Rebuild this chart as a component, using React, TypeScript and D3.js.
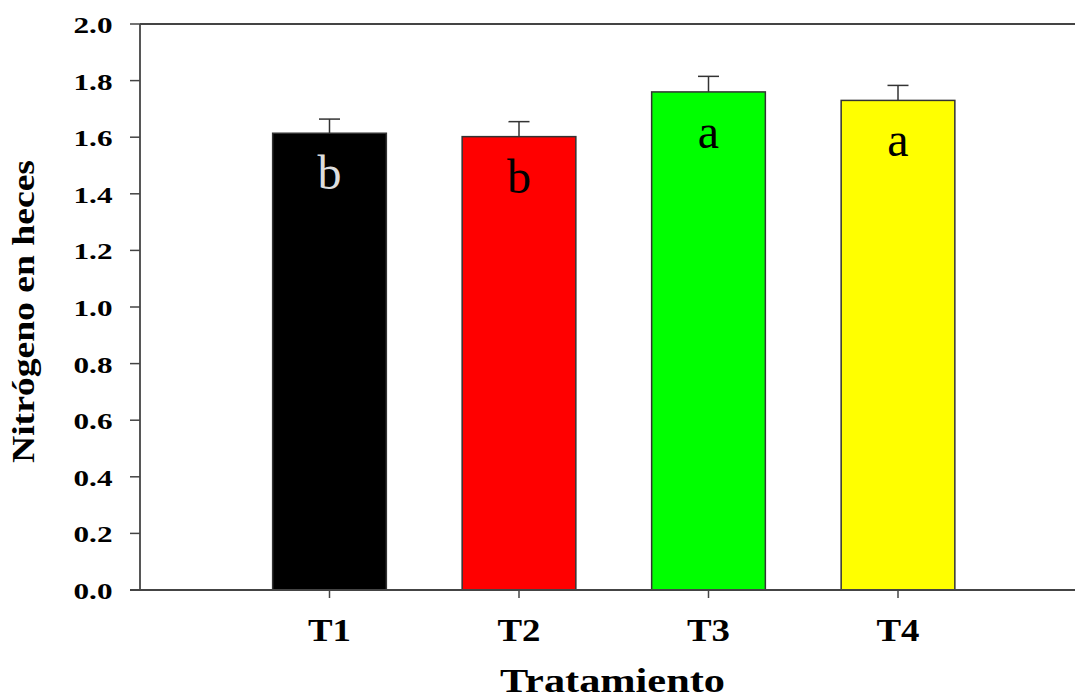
import React from "react";
import * as d3 from "d3";

const categories = ["T1", "T2", "T3", "T4"];
const values = [1.614, 1.602, 1.76, 1.73];
const errors = [0.05, 0.053, 0.055, 0.053];
const letters = ["b", "b", "a", "a"];
const barColors = ["#000000", "#ff0000", "#00ff00", "#ffff00"];
const letterColors = ["#dddddd", "#000000", "#000000", "#000000"];
const yTicks = [0, 0.2, 0.4, 0.6, 0.8, 1.0, 1.2, 1.4, 1.6, 1.8, 2.0];

const W = 1075;
const H = 700;
const FONT = "'Liberation Serif', 'Times New Roman', serif";

export default function App() {
  const x = d3.scaleLinear().domain([0, 5]).range([140, 1087.5]);
  const y = d3.scaleLinear().domain([0, 2]).range([590, 24]);
  const step = x(1) - x(0);
  const bw = step * 0.6;
  const fmt = d3.format(".1f");
  const axisColor = "#444";

  return (
    <svg
      width={W}
      height={H}
      style={{ position: "absolute", left: 0, top: 0, background: "#fff" }}
    >
      {/* bars */}
      {categories.map((c, i) => {
        const cx = x(i + 1);
        const top = y(values[i]);
        return (
          <g key={c}>
            <line
              x1={cx}
              x2={cx}
              y1={top}
              y2={y(values[i] + errors[i])}
              stroke="#333"
              strokeWidth={1.5}
            />
            <line
              x1={cx - 10.5}
              x2={cx + 10.5}
              y1={y(values[i] + errors[i])}
              y2={y(values[i] + errors[i])}
              stroke="#333"
              strokeWidth={1.5}
            />
            <rect
              x={cx - bw / 2}
              y={top}
              width={bw}
              height={y(0) - top}
              fill={barColors[i]}
              stroke="#333"
              strokeWidth={1.5}
            />
            <text
              x={cx}
              y={top + 56}
              textAnchor="middle"
              fontFamily={FONT}
              fontSize={48}
              fill={letterColors[i]}
            >
              {letters[i]}
            </text>
          </g>
        );
      })}

      {/* axes */}
      <line x1={140} x2={W} y1={y(2)} y2={y(2)} stroke={axisColor} strokeWidth={1.8} />
      <line x1={130} x2={W} y1={y(0)} y2={y(0)} stroke={axisColor} strokeWidth={1.8} />
      <line x1={140} x2={140} y1={y(0)} y2={y(2)} stroke={axisColor} strokeWidth={1.8} />

      {yTicks.map((t) => (
        <g key={t}>
          <line x1={130} x2={140} y1={y(t)} y2={y(t)} stroke={axisColor} strokeWidth={1.5} />
          <text
            x={112.5}
            y={y(t) + 9}
            textAnchor="end"
            fontFamily={FONT}
            fontWeight="bold"
            fontSize={23}
            textLength={39}
            lengthAdjust="spacingAndGlyphs"
            fill="#000"
          >
            {fmt(t)}
          </text>
        </g>
      ))}

      {categories.map((c, i) => (
        <g key={"xt" + c}>
          <line
            x1={x(i + 1)}
            x2={x(i + 1)}
            y1={y(0)}
            y2={y(0) + 8}
            stroke={axisColor}
            strokeWidth={1.5}
          />
          <text
            x={x(i + 1)}
            y={641}
            textAnchor="middle"
            fontFamily={FONT}
            fontWeight="bold"
            fontSize={32}
            textLength={43}
            lengthAdjust="spacingAndGlyphs"
            fill="#000"
          >
            {c}
          </text>
        </g>
      ))}

      {/* axis titles */}
      <text
        transform={`translate(34, 311.5) rotate(-90)`}
        textAnchor="middle"
        fontFamily={FONT}
        fontWeight="bold"
        fontSize={32}
        textLength={303}
        lengthAdjust="spacingAndGlyphs"
        fill="#000"
      >
        Nitrógeno en heces
      </text>
      <text
        x={612.5}
        y={692}
        textAnchor="middle"
        fontFamily={FONT}
        fontWeight="bold"
        fontSize={34}
        textLength={225}
        lengthAdjust="spacingAndGlyphs"
        fill="#000"
      >
        Tratamiento
      </text>
    </svg>
  );
}
